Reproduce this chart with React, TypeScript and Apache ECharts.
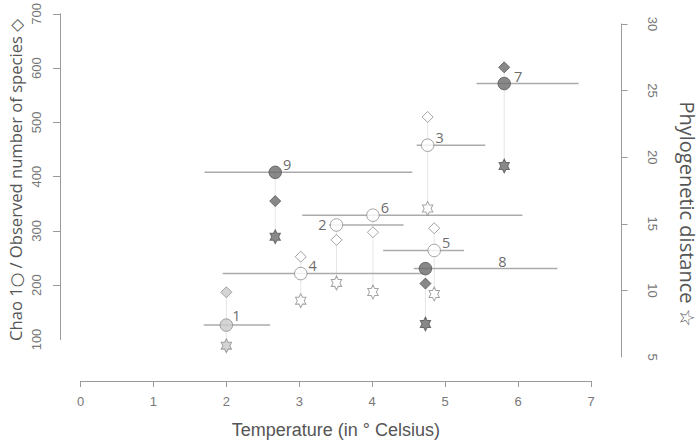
import React, { useEffect, useRef } from 'react';
import * as echarts from 'echarts';

// ---- data ----
const sampleIds = ['1', '2', '3', '4', '5', '6', '7', '8', '9'];
const temperature = [2.0, 3.51, 4.76, 3.02, 4.85, 4.01, 5.81, 4.73, 2.67];
const temperatureLow = [1.69, 3.41, 4.61, 1.95, 4.15, 3.04, 5.43, 4.57, 1.7];
const temperatureHigh = [2.6, 4.43, 5.55, 4.7, 5.26, 6.06, 6.83, 6.54, 4.55];
const chao1 = [126.5, 311, 458, 221.5, 264, 329, 571.6, 230.6, 408];
const observedSpecies = [187, 283.5, 510, 252.5, 305, 297.6, 601.4, 203, 355];
const phylogeneticDistance = [5.85, 10.56, 16.15, 9.23, 9.73, 9.88, 19.34, 7.48, 14.03];
const sampleShade = ['light', 'white', 'white', 'white', 'white', 'white', 'dark', 'dark', 'dark'];

const xTickValues = [0, 1, 2, 3, 4, 5, 6, 7];
const leftTickValues = [100, 200, 300, 400, 500, 600, 700];
const rightTickValues = [5, 10, 15, 20, 25, 30];

// ---- styles ----
const STAR =
  'path://M100 0L128.87 50L186.6 50L157.74 100L186.6 150L128.87 150L100 200L71.13 150L13.4 150L42.26 100L13.4 50L71.13 50Z';
const shades: Record<string, { fill: string; stroke: string }> = {
  light: { fill: '#cacaca', stroke: '#8c8c8c' },
  white: { fill: '#ffffff', stroke: '#8c8c8c' },
  dark: { fill: '#6b6b6b', stroke: '#555555' },
};
const labelOffsets: Record<string, [number, number]> = {
  '1': [10, -10],
  '2': [-14, 0],
  '7': [14, -7],
  '8': [77, -7],
};
const defaultLabelOffset: [number, number] = [12, -8];
const tickFont = '"Liberation Sans", Arial, sans-serif';
const titleFont = '"Open Sans", "DejaVu Sans", sans-serif';
const axisGrey = '#9a9a9a';
const tickLabelStyle = { fontSize: 13, fontFamily: tickFont, fill: '#777' };

export default function App() {
  const ref = useRef<HTMLDivElement>(null);

  useEffect(() => {
    if (!ref.current) return;
    const chart = echarts.init(ref.current, undefined, { renderer: 'svg' });

    const itemStyleFor = (i: number) => {
      const s = shades[sampleShade[i]];
      return { color: s.fill, borderColor: s.stroke, borderWidth: 1 };
    };

    const circleData = sampleIds.map((id, i) => ({
      value: [temperature[i], chao1[i]],
      name: id,
      itemStyle: itemStyleFor(i),
      label: { offset: labelOffsets[id] || defaultLabelOffset },
    }));
    const diamondData = sampleIds.map((id, i) => ({
      value: [temperature[i], observedSpecies[i]],
      name: id,
      itemStyle: itemStyleFor(i),
    }));
    const starData = sampleIds.map((id, i) => ({
      value: [temperature[i], phylogeneticDistance[i]],
      name: id,
      itemStyle: itemStyleFor(i),
    }));
    const barData = sampleIds.map((id, i) => [temperatureLow[i], temperatureHigh[i], chao1[i]]);
    const connectorData = sampleIds.map((id, i) => [
      temperature[i],
      chao1[i],
      observedSpecies[i],
      phylogeneticDistance[i],
    ]);

    const xAxisCommon = {
      type: 'value',
      min: xTickValues[0],
      max: xTickValues[xTickValues.length - 1],
      interval: 1,
      splitLine: { show: false },
    };

    const titleGraphics: any[] = [
      {
        type: 'text',
        x: 15,
        y: 180,
        rotation: Math.PI / 2,
        style: {
          text: 'Chao 1○ / Observed number of species ◇',
          fontSize: 16.6,
          fontFamily: titleFont,
          fill: '#555',
          align: 'center',
          verticalAlign: 'middle',
        },
      },
      {
        type: 'text',
        x: 687,
        y: 214,
        rotation: -Math.PI / 2,
        style: {
          text: 'Phylogenetic distance ☆',
          fontSize: 20,
          fontFamily: titleFont,
          fill: '#555',
          align: 'center',
          verticalAlign: 'middle',
        },
      },
    ];

    const option: any = {
      animation: false,
      backgroundColor: '#ffffff',
      grid: [
        { left: 80.5, right: 109, top: 12, bottom: 103.5 },
        { left: 80.5, right: 109, top: 24, bottom: 87 },
      ],
      xAxis: [
        {
          ...xAxisCommon,
          gridIndex: 0,
          offset: 41.5,
          axisLine: { show: true, onZero: false, lineStyle: { color: axisGrey, width: 1 } },
          axisTick: { show: true, length: 6, lineStyle: { color: axisGrey } },
          axisLabel: { margin: 14, color: '#777', fontSize: 13, fontFamily: tickFont },
          name: 'Temperature (in ° Celsius)',
          nameLocation: 'middle',
          nameGap: 40,
          nameTextStyle: { fontSize: 18, color: '#555', fontFamily: tickFont },
        },
        { ...xAxisCommon, gridIndex: 1, show: false },
      ],
      yAxis: [
        {
          type: 'value',
          gridIndex: 0,
          position: 'left',
          min: leftTickValues[0],
          max: leftTickValues[leftTickValues.length - 1],
          interval: 100,
          offset: 20.5,
          splitLine: { show: false },
          axisLine: { show: true, onZero: false, lineStyle: { color: axisGrey, width: 1 } },
          axisTick: { show: true, length: 7, lineStyle: { color: axisGrey } },
          axisLabel: {
            rotate: 90,
            margin: 17,
            color: '#777',
            fontSize: 13,
            fontFamily: tickFont,
            showMinLabel: false,
          },
        },
        {
          type: 'value',
          gridIndex: 1,
          position: 'right',
          min: rightTickValues[0],
          max: rightTickValues[rightTickValues.length - 1],
          interval: 5,
          offset: 30.5,
          splitLine: { show: false },
          axisLine: { show: true, onZero: false, lineStyle: { color: axisGrey, width: 1 } },
          axisTick: { show: true, length: 6, lineStyle: { color: axisGrey } },
          axisLabel: {
            rotate: -90,
            margin: 24,
            color: '#777',
            fontSize: 13,
            fontFamily: tickFont,
            showMinLabel: false,
          },
        },
      ],
      graphic: titleGraphics,
      series: [
        {
          type: 'custom',
          name: 'connectors',
          xAxisIndex: 0,
          yAxisIndex: 0,
          z: 1,
          silent: true,
          data: connectorData,
          renderItem: (params: any, api: any) => {
            const x = api.value(0);
            const pC = api.coord([x, api.value(1)]);
            const pO = api.coord([x, api.value(2)]);
            let starY = pC[1];
            try {
              const v = chart.convertToPixel({ yAxisIndex: 1 } as any, api.value(3) as any);
              if (typeof v === 'number' && isFinite(v)) starY = v;
            } catch (e) {}
            const ys = [pC[1], pO[1], starY];
            return {
              type: 'line',
              shape: { x1: pC[0], y1: Math.min(...ys), x2: pC[0], y2: Math.max(...ys) },
              style: { stroke: '#e6e6e6', lineWidth: 1 },
            };
          },
        },
        {
          type: 'custom',
          name: 'temperature range',
          xAxisIndex: 0,
          yAxisIndex: 0,
          z: 2,
          silent: true,
          data: barData,
          renderItem: (params: any, api: any) => {
            const y = api.value(2);
            const p1 = api.coord([api.value(0), y]);
            const p2 = api.coord([api.value(1), y]);
            return {
              type: 'line',
              shape: { x1: p1[0], y1: p1[1], x2: p2[0], y2: p2[1] },
              style: { stroke: '#ababab', lineWidth: 1.5 },
            };
          },
        },
        {
          type: 'scatter',
          name: 'Phylogenetic distance',
          xAxisIndex: 1,
          yAxisIndex: 1,
          z: 3,
          symbol: STAR,
          symbolKeepAspect: true,
          symbolSize: [12, 13.8],
          data: starData,
        },
        {
          type: 'scatter',
          name: 'Observed number of species',
          xAxisIndex: 0,
          yAxisIndex: 0,
          z: 4,
          symbol: 'diamond',
          symbolSize: 11,
          data: diamondData,
        },
        {
          type: 'scatter',
          name: 'Chao 1',
          xAxisIndex: 0,
          yAxisIndex: 0,
          z: 5,
          symbol: 'circle',
          symbolSize: 12.5,
          data: circleData,
          label: {
            show: true,
            position: 'inside',
            formatter: (p: any) => p.name,
            color: '#444',
            fontSize: 14.5,
            fontFamily: titleFont,
            align: 'center',
            verticalAlign: 'middle',
          },
        },
      ],
    };

    chart.setOption(option);

    // Lowest tick labels, placed at the tick through the axes' own scales
    const leftPt = chart.convertToPixel({ xAxisIndex: 0, yAxisIndex: 0 } as any, [xTickValues[0], leftTickValues[0]]) as any;
    const rightPt = chart.convertToPixel({ xAxisIndex: 1, yAxisIndex: 1 } as any, [xTickValues[0], rightTickValues[0]]) as any;
    if (Array.isArray(leftPt) && Array.isArray(rightPt)) {
      chart.setOption({
        graphic: [
          ...titleGraphics,
          {
            type: 'text',
            x: 36,
            y: leftPt[1],
            rotation: Math.PI / 2,
            style: { ...tickLabelStyle, text: String(leftTickValues[0]), align: 'center', verticalAlign: 'middle' },
          },
          {
            type: 'text',
            x: 652,
            y: rightPt[1],
            rotation: -Math.PI / 2,
            style: { ...tickLabelStyle, text: String(rightTickValues[0]), align: 'center', verticalAlign: 'middle' },
          },
        ],
      });
    }

    return () => chart.dispose();
  }, []);

  return (
    <div
      ref={ref}
      style={{ position: 'fixed', left: 0, top: 0, width: 700, height: 444, background: '#fff' }}
    />
  );
}
